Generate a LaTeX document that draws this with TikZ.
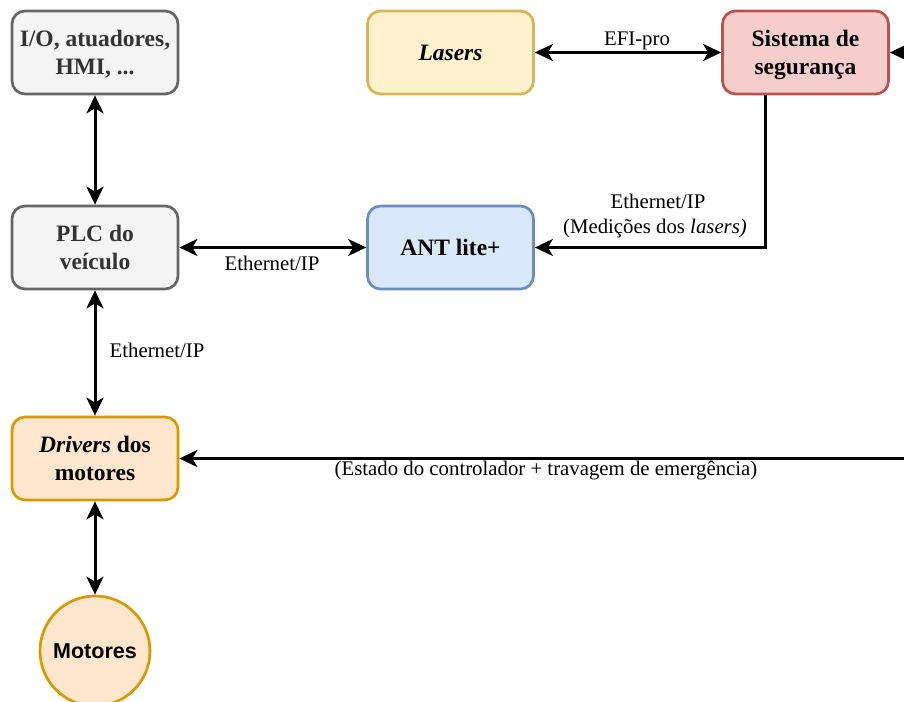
\documentclass[tikz,border=0pt]{standalone}
\usepackage{fontspec}
\setmainfont{Liberation Serif}
\newfontfamily\helv{Liberation Sans}
\usetikzlibrary{arrows.meta}

\definecolor{grayfill}{HTML}{F5F5F5}
\definecolor{graydraw}{HTML}{666666}
\definecolor{graytext}{HTML}{333333}
\definecolor{orangefill}{HTML}{FFE6CC}
\definecolor{orangedraw}{HTML}{D79B00}
\definecolor{yellowfill}{HTML}{FFF2CC}
\definecolor{yellowdraw}{HTML}{D6B656}
\definecolor{redfill}{HTML}{F8CECC}
\definecolor{reddraw}{HTML}{B85450}
\definecolor{bluefill}{HTML}{DAE8FC}
\definecolor{bluedraw}{HTML}{6C8EBF}

\tikzset{
  box/.style={rectangle, rounded corners=13pt, line width=2.7pt,
    minimum width=166pt, minimum height=83pt, inner sep=0pt, align=center,
    text depth=0pt,
    font=\fontsize{23.5}{28.5}\selectfont\bfseries},
  graybox/.style={box, fill=grayfill, draw=graydraw, text=graytext},
  orangebox/.style={box, fill=orangefill, draw=orangedraw},
  yellowbox/.style={box, fill=yellowfill, draw=yellowdraw},
  redbox/.style={box, fill=redfill, draw=reddraw},
  bluebox/.style={box, fill=bluefill, draw=bluedraw},
  motor/.style={circle, fill=orangefill, draw=orangedraw, line width=2.7pt,
    minimum size=110pt, inner sep=0pt, font=\helv\fontsize{21.5}{26}\selectfont\bfseries},
  link/.style={line width=3pt, draw=black, {Stealth[length=18pt, width=17pt, inset=5pt]}-{Stealth[length=18pt, width=17pt, inset=5pt]}},
  onelink/.style={line width=3pt, draw=black, -{Stealth[length=18pt, width=17pt, inset=5pt]}},
  lbl/.style={inner sep=0pt, align=center, font=\fontsize{20.8}{27}\selectfont},
}

\begin{document}
\begin{tikzpicture}[x=1pt, y=-1pt]
  \path[use as bounding box, clip] (0,0) rectangle (904,701);
  \fill[white] (0,0) rectangle (904,701);

  % blocks
  \node[graybox] (io) at (95,52.5) {I/O, atuadores,\\HMI, ...};
  \node[graybox] (plc) at (95,247.5) {PLC do\\veículo};
  \node[orangebox] (drv) at (95,458.5) {\textit{Drivers} dos\\motores};
  \node[motor] (mot) at (95,651) {Motores};
  \node[yellowbox] (las) at (450.5,52.5) {\textit{Lasers}};
  \node[redbox] (seg) at (805.5,52.5) {Sistema de\\segurança};
  \node[bluebox] (ant) at (450.5,247.5) {ANT lite+};

  % free ends of the links leaving the page on the right
  \coordinate (segin) at (960,52.5);
  \coordinate (drvin) at (960,458.5);

  % connectors
  \draw[link] (io) -- (plc);
  \draw[link] (plc) -- (drv);
  \draw[link] (drv) -- (mot);
  \draw[link] (plc) -- (ant);
  \draw[link] (las) -- (seg);
  \draw[onelink] (segin) -- (seg.east);
  \draw[onelink] (drvin) -- (drv.east);
  \draw[onelink] ([xshift=-40.5pt]seg.south) |- (ant.east);

  % connector labels
  \node[lbl] (lefi) at (637,41) {EFI-pro};
  \node[lbl] (leth1) at (272,263) {Ethernet/IP};
  \node[lbl] (leth2) at (157,350) {Ethernet/IP};
  \node[lbl] (leth3) at (658,201) {Ethernet/IP};
  \node[lbl] (lmed) at (655,228) {(Medições dos \textit{lasers)}};
  \node[lbl] (lest) at (546,471) {(Estado do controlador + travagem de emergência)};
\end{tikzpicture}
\end{document}
